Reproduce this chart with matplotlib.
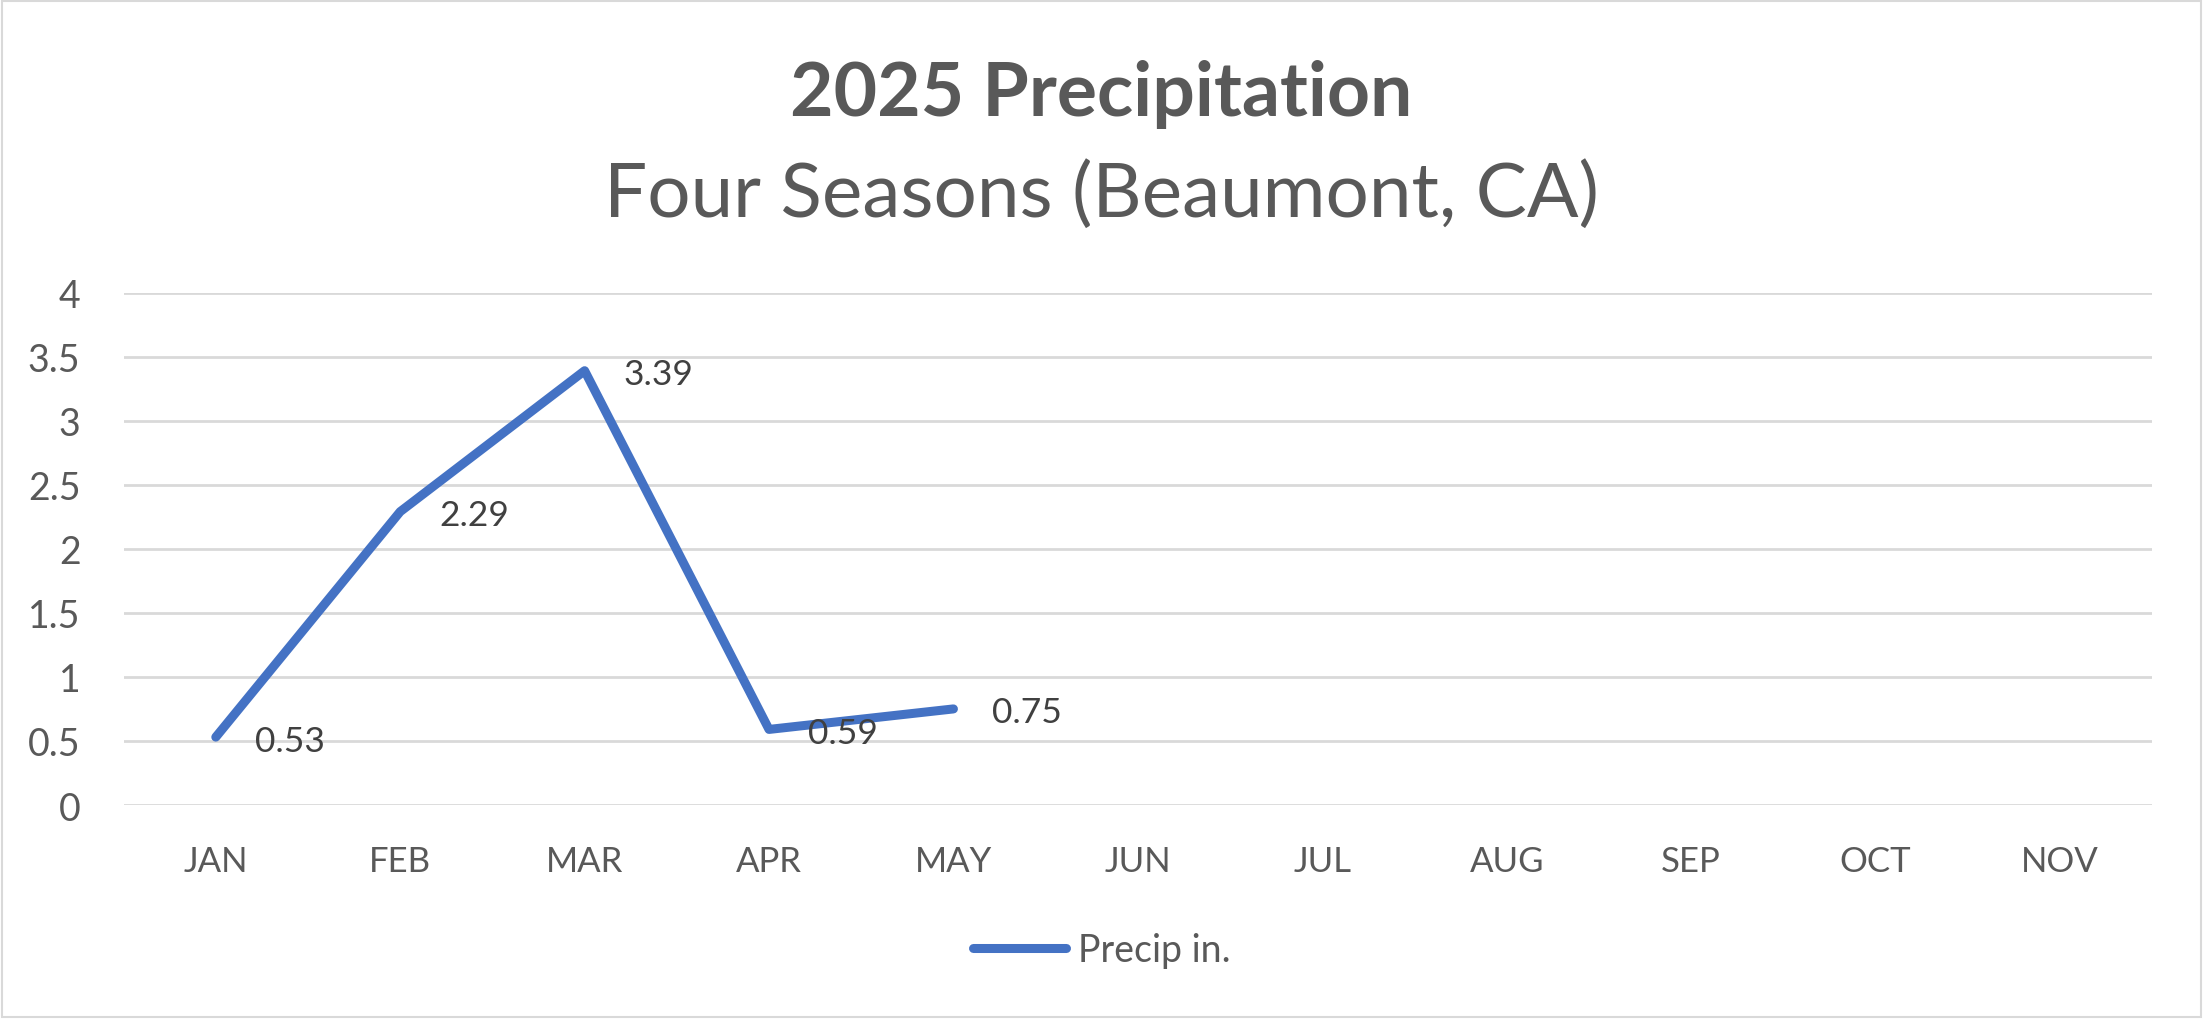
import matplotlib
matplotlib.use("Agg")
import matplotlib.pyplot as plt
from matplotlib.lines import Line2D
from matplotlib.patches import Rectangle

months = ["JAN", "FEB", "MAR", "APR", "MAY", "JUN", "JUL", "AUG", "SEP", "OCT", "NOV"]
precip = [0.53, 2.29, 3.39, 0.59, 0.75]
yticks = [0, 0.5, 1, 1.5, 2, 2.5, 3, 3.5, 4]
ytick_labels = ["0", "0.5", "1", "1.5", "2", "2.5", "3", "3.5", "4"]
title = "2025 Precipitation"
subtitle = "Four Seasons (Beaumont, CA)"
series_name = "Precip in."

plt.rcParams['font.family'] = ['Lato', 'DejaVu Sans']
TEXT = "#595959"
LABEL = "#404040"
GRID = "#d9d9d9"
BLUE = "#4472C4"

fig = plt.figure(figsize=(22.03, 10.20), dpi=100)
fig.patch.set_facecolor("white")
fig.add_artist(Rectangle((0.001, 0.002), 0.998, 0.996, transform=fig.transFigure,
                         fill=False, edgecolor=GRID, linewidth=1.5))

ax = fig.add_axes([0.0561, 0.2098, 0.9208, 0.5024])
x = list(range(len(months)))
ax.plot(x[:len(precip)], precip, color=BLUE, linewidth=6.5, solid_capstyle="round",
        solid_joinstyle="round", zorder=3)
for xi, v in zip(x, precip):
    ax.annotate(f"{v:.2f}", (xi, v), xytext=(28, -2.5), textcoords="offset points",
                ha="left", va="center", fontsize=25.5, color=LABEL, zorder=4)

ax.set_xlim(-0.5, len(months) - 0.5)
ax.set_ylim(0, 4)
ax.set_yticks(yticks)
ax.set_yticklabels(ytick_labels)
ax.set_xticks(x)
ax.set_xticklabels(months)
ax.tick_params(axis="y", length=0, pad=31, labelsize=27, labelcolor=TEXT)
ax.tick_params(axis="x", length=0, pad=29, labelsize=25, labelcolor=TEXT)
ax.grid(axis="y", color=GRID, linewidth=2)
ax.set_axisbelow(True)
for s in ax.spines.values():
    s.set_visible(False)

fig.text(0.5, 0.8863, title, ha="center", va="baseline", fontsize=54,
         fontweight="bold", color=TEXT)
fig.text(0.5, 0.7873, subtitle, ha="center", va="baseline", fontsize=55, color=TEXT)

handle = Line2D([0], [0], color=BLUE, linewidth=6.5, solid_capstyle="round")
fig.legend([handle], [series_name], loc="center", bbox_to_anchor=(0.5, 0.0676),
           frameon=False, fontsize=27, handlelength=2.5, handletextpad=0.3,
           labelcolor=TEXT)

fig.savefig("out.png", dpi=100)
